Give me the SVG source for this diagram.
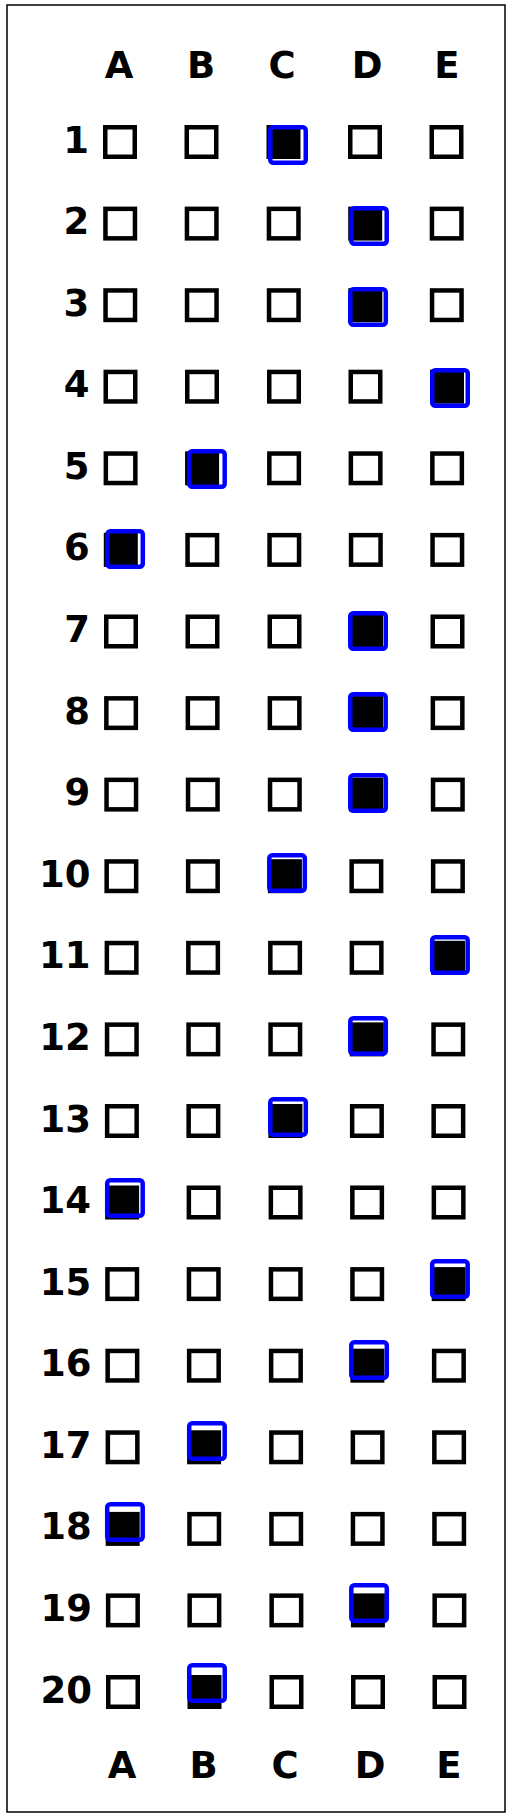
<svg xmlns="http://www.w3.org/2000/svg" xmlns:xlink="http://www.w3.org/1999/xlink" width="512" height="1818" viewBox="0 0 512 1818">
<style>
.box{fill:none;stroke:#000;stroke-width:4.5}
.on{fill:#000}
.mark{fill:none;stroke:#0000ff;stroke-width:4.5}
.lbl{font-family:"DejaVu Sans","Liberation Sans",sans-serif;font-weight:bold;font-size:37px;fill:#000;text-anchor:middle}
.num{font-family:"DejaVu Sans","Liberation Sans",sans-serif;font-weight:bold;font-size:37px;fill:#000;text-anchor:end}
</style>
<defs>
<rect id="b" x="2.25" y="2.25" width="29.5" height="29.5"/>
</defs>
<rect x="0" y="0" width="512" height="1818" fill="#fff"/>
<rect id="frame" x="7" y="5" width="498" height="1807" fill="none" stroke="#000" stroke-width="1.5"/>
<g id="header">
<text class="lbl" x="119" y="78">A</text>
<text class="lbl" x="201" y="78">B</text>
<text class="lbl" x="282" y="78">C</text>
<text class="lbl" x="367" y="78">D</text>
<text class="lbl" x="447" y="78">E</text>
</g>
<g id="q1" transform="translate(103 125)">
<text class="num" x="-14" y="27.5">1</text>
<use href="#b" class="box" x="0"/><use href="#b" class="box" x="81.5"/><use href="#b" class="box on" x="163.5"/><use href="#b" class="box" x="245"/><use href="#b" class="box" x="326.5"/>
<rect class="mark" x="167.25" y="2.25" width="35.5" height="35.5" rx="3"/>
</g>
<g id="q2" transform="translate(103.2 206.6)">
<text class="num" x="-14" y="27.5">2</text>
<use href="#b" class="box" x="0"/><use href="#b" class="box" x="81.5"/><use href="#b" class="box" x="163.5"/><use href="#b" class="box on" x="245"/><use href="#b" class="box" x="326.5"/>
<rect class="mark" x="248" y="1.6" width="35.5" height="35.5" rx="3"/>
</g>
<g id="q3" transform="translate(103.3 288.2)">
<text class="num" x="-14" y="27.5">3</text>
<use href="#b" class="box" x="0"/><use href="#b" class="box" x="81.5"/><use href="#b" class="box" x="163.5"/><use href="#b" class="box on" x="245"/><use href="#b" class="box" x="326.5"/>
<rect class="mark" x="247" y="1" width="35.5" height="35.5" rx="3"/>
</g>
<g id="q4" transform="translate(103.5 369.7)">
<text class="num" x="-14" y="27.5">4</text>
<use href="#b" class="box" x="0"/><use href="#b" class="box" x="81.5"/><use href="#b" class="box" x="163.5"/><use href="#b" class="box" x="245"/><use href="#b" class="box on" x="326.5"/>
<rect class="mark" x="328.75" y="0.5" width="35.5" height="35.5" rx="3"/>
</g>
<g id="q5" transform="translate(103.6 451.3)">
<text class="num" x="-14" y="27.5">5</text>
<use href="#b" class="box" x="0"/><use href="#b" class="box on" x="81.5"/><use href="#b" class="box" x="163.5"/><use href="#b" class="box" x="245"/><use href="#b" class="box" x="326.5"/>
<rect class="mark" x="85.6" y="0" width="35.5" height="35.5" rx="3"/>
</g>
<g id="q6" transform="translate(103.8 532.9)">
<text class="num" x="-14" y="27.5">6</text>
<use href="#b" class="box on" x="0"/><use href="#b" class="box" x="81.5"/><use href="#b" class="box" x="163.5"/><use href="#b" class="box" x="245"/><use href="#b" class="box" x="326.5"/>
<rect class="mark" x="3.5" y="-1.6" width="35.5" height="35.5" rx="3"/>
</g>
<g id="q7" transform="translate(104 614.5)">
<text class="num" x="-14" y="27.5">7</text>
<use href="#b" class="box" x="0"/><use href="#b" class="box" x="81.5"/><use href="#b" class="box" x="163.5"/><use href="#b" class="box on" x="245"/><use href="#b" class="box" x="326.5"/>
<rect class="mark" x="246.25" y="-1.25" width="35.5" height="35.5" rx="3"/>
</g>
<g id="q8" transform="translate(104.1 696.1)">
<text class="num" x="-14" y="27.5">8</text>
<use href="#b" class="box" x="0"/><use href="#b" class="box" x="81.5"/><use href="#b" class="box" x="163.5"/><use href="#b" class="box on" x="245"/><use href="#b" class="box" x="326.5"/>
<rect class="mark" x="246.1" y="-1.9" width="35.5" height="35.5" rx="3"/>
</g>
<g id="q9" transform="translate(104.3 777.6)">
<text class="num" x="-14" y="27.5">9</text>
<use href="#b" class="box" x="0"/><use href="#b" class="box" x="81.5"/><use href="#b" class="box" x="163.5"/><use href="#b" class="box on" x="245"/><use href="#b" class="box" x="326.5"/>
<rect class="mark" x="246" y="-2.4" width="35.5" height="35.5" rx="3"/>
</g>
<g id="q10" transform="translate(104.4 859.2)">
<text class="num" x="-14" y="27.5">10</text>
<use href="#b" class="box" x="0"/><use href="#b" class="box" x="81.5"/><use href="#b" class="box on" x="163.5"/><use href="#b" class="box" x="245"/><use href="#b" class="box" x="326.5"/>
<rect class="mark" x="164.9" y="-4" width="35.5" height="35.5" rx="3"/>
</g>
<g id="q11" transform="translate(104.6 940.8)">
<text class="num" x="-14" y="27.5">11</text>
<use href="#b" class="box" x="0"/><use href="#b" class="box" x="81.5"/><use href="#b" class="box" x="163.5"/><use href="#b" class="box" x="245"/><use href="#b" class="box on" x="326.5"/>
<rect class="mark" x="327.6" y="-3.6" width="35.5" height="35.5" rx="3"/>
</g>
<g id="q12" transform="translate(104.8 1022.4)">
<text class="num" x="-14" y="27.5">12</text>
<use href="#b" class="box" x="0"/><use href="#b" class="box" x="81.5"/><use href="#b" class="box" x="163.5"/><use href="#b" class="box on" x="245"/><use href="#b" class="box" x="326.5"/>
<rect class="mark" x="245.5" y="-4.2" width="35.5" height="35.5" rx="3"/>
</g>
<g id="q13" transform="translate(104.9 1104)">
<text class="num" x="-14" y="27.5">13</text>
<use href="#b" class="box" x="0"/><use href="#b" class="box" x="81.5"/><use href="#b" class="box on" x="163.5"/><use href="#b" class="box" x="245"/><use href="#b" class="box" x="326.5"/>
<rect class="mark" x="165.4" y="-4.8" width="35.5" height="35.5" rx="3"/>
</g>
<g id="q14" transform="translate(105.1 1185.5)">
<text class="num" x="-14" y="27.5">14</text>
<use href="#b" class="box on" x="0"/><use href="#b" class="box" x="81.5"/><use href="#b" class="box" x="163.5"/><use href="#b" class="box" x="245"/><use href="#b" class="box" x="326.5"/>
<rect class="mark" x="2.1" y="-5.3" width="35.5" height="35.5" rx="3"/>
</g>
<g id="q15" transform="translate(105.2 1267.1)">
<text class="num" x="-14" y="27.5">15</text>
<use href="#b" class="box" x="0"/><use href="#b" class="box" x="81.5"/><use href="#b" class="box" x="163.5"/><use href="#b" class="box" x="245"/><use href="#b" class="box on" x="326.5"/>
<rect class="mark" x="327" y="-5.9" width="35.5" height="35.5" rx="3"/>
</g>
<g id="q16" transform="translate(105.4 1348.7)">
<text class="num" x="-14" y="27.5">16</text>
<use href="#b" class="box" x="0"/><use href="#b" class="box" x="81.5"/><use href="#b" class="box" x="163.5"/><use href="#b" class="box on" x="245"/><use href="#b" class="box" x="326.5"/>
<rect class="mark" x="245.9" y="-6.5" width="35.5" height="35.5" rx="3"/>
</g>
<g id="q17" transform="translate(105.6 1430.3)">
<text class="num" x="-14" y="27.5">17</text>
<use href="#b" class="box" x="0"/><use href="#b" class="box on" x="81.5"/><use href="#b" class="box" x="163.5"/><use href="#b" class="box" x="245"/><use href="#b" class="box" x="326.5"/>
<rect class="mark" x="83.6" y="-7" width="35.5" height="35.5" rx="3"/>
</g>
<g id="q18" transform="translate(105.7 1511.9)">
<text class="num" x="-14" y="27.5">18</text>
<use href="#b" class="box on" x="0"/><use href="#b" class="box" x="81.5"/><use href="#b" class="box" x="163.5"/><use href="#b" class="box" x="245"/><use href="#b" class="box" x="326.5"/>
<rect class="mark" x="1.5" y="-7.7" width="35.5" height="35.5" rx="3"/>
</g>
<g id="q19" transform="translate(105.9 1593.4)">
<text class="num" x="-14" y="27.5">19</text>
<use href="#b" class="box" x="0"/><use href="#b" class="box" x="81.5"/><use href="#b" class="box" x="163.5"/><use href="#b" class="box on" x="245"/><use href="#b" class="box" x="326.5"/>
<rect class="mark" x="245.4" y="-8.2" width="35.5" height="35.5" rx="3"/>
</g>
<g id="q20" transform="translate(106 1675)">
<text class="num" x="-14" y="27.5">20</text>
<use href="#b" class="box" x="0"/><use href="#b" class="box on" x="81.5"/><use href="#b" class="box" x="163.5"/><use href="#b" class="box" x="245"/><use href="#b" class="box" x="326.5"/>
<rect class="mark" x="83.25" y="-9.75" width="35.5" height="35.5" rx="3"/>
</g>
<g id="footer">
<text class="lbl" x="122" y="1778">A</text>
<text class="lbl" x="203.5" y="1778">B</text>
<text class="lbl" x="285" y="1778">C</text>
<text class="lbl" x="370" y="1778">D</text>
<text class="lbl" x="449" y="1778">E</text>
</g>
</svg>
